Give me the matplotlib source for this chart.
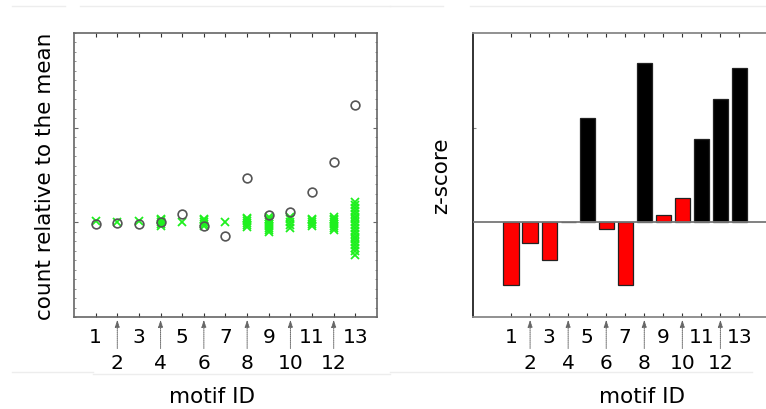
import matplotlib
matplotlib.use("Agg")
import matplotlib.pyplot as plt
from matplotlib.lines import Line2D
from matplotlib.ticker import MultipleLocator, NullFormatter
import matplotlib.transforms as mtransforms

plt.rcParams['font.family'] = ['DejaVu Sans']

# motif identifiers
motifs = list(range(1, 14))

# observed count of each motif, relative to the random-network mean
observed = [-0.02, -0.01, -0.02, 0.0, 0.09, -0.035, -0.14, 0.47, 0.077, 0.105, 0.32, 0.64, 1.24]

# counts in the randomised networks, relative to the mean
random_counts = {
    1: [0.01],
    2: [0.0],
    3: [0.01],
    4: [0.04, 0.02, 0.0, -0.02, -0.04],
    5: [0.0],
    6: [0.04, 0.02, 0.0, -0.02, -0.04],
    7: [0.0],
    8: [0.05, 0.03, 0.01, -0.01, -0.03, -0.05],
    9: [0.06, 0.04, 0.02, 0.0, -0.02, -0.04, -0.06, -0.08, -0.1],
    10: [0.06, 0.03, 0.0, -0.03, -0.06],
    11: [0.04, 0.02, 0.0, -0.02, -0.04],
    12: [0.06, 0.04, 0.02, 0.0, -0.02, -0.04, -0.06, -0.08],
    13: [0.21, 0.18, 0.15, 0.12, 0.09, 0.06, 0.03, 0.0, -0.03, -0.06,
         -0.09, -0.12, -0.15, -0.18, -0.21, -0.24, -0.27, -0.3, -0.34],
}

# z-scores of each motif
zscores = [-0.667, -0.214, -0.40, 0.0, 1.098, -0.07, -0.667, 1.684, 0.074, 0.253, 0.88, 1.305, 1.628]
z_threshold = 0.5

W, H = 766, 410
fig = plt.figure(figsize=(W / 100, H / 100), dpi=100)
TICK_FS = 14.5
LABEL_FS = 15.5


def px_axes(x0, x1, y0, y1):
    return fig.add_axes([x0 / W, 1 - y1 / H, (x1 - x0) / W, (y1 - y0) / H])


def motif_axis(ax):
    ax.set_xticks(motifs)
    ax.set_xticklabels([str(m) if m % 2 else "" for m in motifs], fontsize=TICK_FS)
    ax.tick_params(axis='x', which='major', direction='in', length=3, width=0.8,
                   top=True, bottom=True, pad=7, color='#333333')
    trans = mtransforms.blended_transform_factory(ax.transData, ax.transAxes)
    for m in motifs:
        if m % 2 == 0:
            ax.annotate(str(m), xy=(m, 0), xycoords=trans,
                        xytext=(0, -32.5), textcoords='offset points',
                        ha='center', va='center', fontsize=TICK_FS,
                        arrowprops=dict(arrowstyle='-|>,head_length=0.3,head_width=0.1',
                                        linestyle=(0, (1, 1)), color='#666666',
                                        lw=0.7, shrinkA=1, shrinkB=2),
                        annotation_clip=False)


# ---- left: counts relative to the mean ----
ax1 = px_axes(74, 377, 34, 318)
ax1.set_xlim(0, 14)
ax1.set_ylim(-1, 2)
for sp in ax1.spines.values():
    sp.set_color('#666666')
    sp.set_linewidth(1.2)
motif_axis(ax1)
ax1.set_yticks([0, 1])
ax1.yaxis.set_minor_locator(MultipleLocator(0.1))
ax1.yaxis.set_major_formatter(NullFormatter())
ax1.tick_params(axis='y', which='both', direction='in', left=True, right=True,
                color='#666666')
ax1.tick_params(axis='y', which='major', length=3, width=0.8)
ax1.tick_params(axis='y', which='minor', length=1.5, width=0.5)

for m in motifs:
    vals = random_counts[m]
    ax1.plot([m] * len(vals), vals, linestyle='none', marker='x', markersize=5.5,
             markeredgewidth=1.3, color='#1ff01f', zorder=2)
ax1.plot(motifs, observed, linestyle='none', marker='o', markersize=6.3,
         markerfacecolor='none', markeredgecolor='#555555', markeredgewidth=1.2, zorder=3)
ax1.set_ylabel("count relative to the mean", fontsize=LABEL_FS, labelpad=10)
fig.text(212 / W, 1 - 397 / H, "motif ID", fontsize=LABEL_FS, ha='center', va='center')

# ---- right: z-scores ----
ax2 = px_axes(473, 790, 34, 318)
ax2.set_xlim(-1, -1 + (790 - 473) / 19.03)
ax2.set_ylim(-1, 2)
for name, sp in ax2.spines.items():
    sp.set_color('#888888' if name != 'left' else '#222222')
    sp.set_linewidth(1.3)
motif_axis(ax2)
ax2.set_yticks([1])
ax2.yaxis.set_major_formatter(NullFormatter())
ax2.tick_params(axis='y', direction='in', length=2, width=0.8, color='#888888')
colors = ['black' if z > z_threshold else 'red' for z in zscores]
ax2.bar(motifs, zscores, width=0.8, color=colors, edgecolor='#222222', linewidth=0.9,
        zorder=2)
ax2.axhline(0, color='#777777', lw=1.3, zorder=3)
ax2.set_ylabel("z-score", fontsize=LABEL_FS, labelpad=12)
fig.text(642 / W, 1 - 397 / H, "motif ID", fontsize=LABEL_FS, ha='center', va='center')

# faint rules around the panels
for (x0, x1, y) in [(12, 65, 7), (80, 390, 7), (390, 443, 7), (470, 766, 7),
                    (12, 93, 373), (93, 390, 375), (390, 752, 373)]:
    fig.add_artist(Line2D([x0 / W, x1 / W], [1 - y / H, 1 - y / H],
                          color='#ededed', lw=1, transform=fig.transFigure))

fig.savefig("out.png", dpi=100)
